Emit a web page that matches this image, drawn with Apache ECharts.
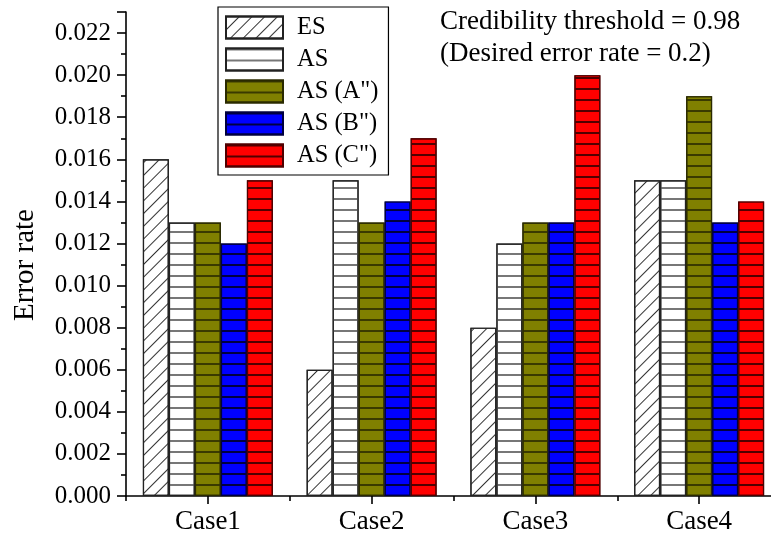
<!DOCTYPE html>
<html>
<head>
<meta charset="utf-8">
<script src="https://cdn.jsdelivr.net/npm/echarts@6/dist/echarts.min.js"></script>
<style>html,body{margin:0;padding:0;background:#fff}#c{width:771px;height:544px}</style>
</head>
<body>
<div id="c"></div>
<script>
var categories = ['Case1', 'Case2', 'Case3', 'Case4'];
var seriesNames = ['ES', 'AS', 'AS (A")', 'AS (B")', 'AS (C")'];
var esValues = [0.016, 0.006, 0.008, 0.015];
var asValues = [0.013, 0.015, 0.012, 0.015];
var asAValues = [0.013, 0.013, 0.013, 0.019];
var asBValues = [0.012, 0.014, 0.013, 0.013];
var asCValues = [0.015, 0.017, 0.020, 0.014];
var yTicks = { min: 0, max: 0.023, interval: 0.002 };

var FONT = '"Liberation Serif", "Times New Roman", serif';
var chart = echarts.init(document.getElementById('c'), null, { renderer: 'canvas' });

function hline(color) {
  return { symbol: 'rect', symbolSize: 1, color: color, dashArrayX: [[1, 0]], dashArrayY: [1.2, 8.8], rotation: 0 };
}
var styles = [
  { color: '#ffffff', borderColor: '#222', decal: { symbol: 'rect', symbolSize: 1, color: '#333', dashArrayX: [[1, 0]], dashArrayY: [1, 8], rotation: -Math.PI / 4 } },
  { color: '#ffffff', borderColor: '#222', decal: hline('#777') },
  { color: '#808000', borderColor: '#2a2a00', decal: hline('#3a3a00') },
  { color: '#0000ff', borderColor: '#000040', decal: hline('#000040') },
  { color: '#ff0000', borderColor: '#500000', decal: hline('#500000') }
];
var values = [esValues, asValues, asAValues, asBValues, asCValues];

var series = seriesNames.map(function (n, i) {
  return {
    name: n, type: 'bar', xAxisIndex: 0, data: values[i],
    barGap: '0%', barCategoryGap: '20.6%',
    itemStyle: { color: styles[i].color, borderColor: styles[i].borderColor, borderWidth: 1.2, decal: styles[i].decal }
  };
});

chart.setOption({
  animation: false,
  backgroundColor: '#fff',
  grid: { left: 126, top: 12, width: 655, bottom: 48, containLabel: false, outerBoundsMode: 'none' },
  legend: {
    orient: 'vertical', left: 218, top: 7,
    itemWidth: 57, itemHeight: 22, itemGap: 7, icon: 'rect',
    padding: [8, 10, 7, 7],
    borderColor: '#000', borderWidth: 1.2, backgroundColor: '#fff',
    textStyle: { fontFamily: FONT, fontSize: 24.5, lineHeight: 22, color: '#000', padding: [0, 0, 0, 9] },
    data: seriesNames
  },
  xAxis: [{
    type: 'category', data: categories, position: 'bottom',
    axisLine: { lineStyle: { color: '#000', width: 1.6 } },
    axisTick: { show: true, alignWithLabel: true, length: 8, inside: false, lineStyle: { color: '#000', width: 1.6 } },
    axisLabel: { fontFamily: FONT, fontSize: 27, color: '#000', margin: 12 },
    splitLine: { show: false }
  }, {
    type: 'category', data: categories, position: 'bottom',
    axisLine: { show: false },
    axisTick: { show: true, alignWithLabel: false, length: 5, lineStyle: { color: '#000', width: 1.6 } },
    axisLabel: { show: false },
    splitLine: { show: false }
  }],
  yAxis: {
    type: 'value', min: yTicks.min, max: yTicks.max, interval: yTicks.interval,
    axisLine: { show: true, lineStyle: { color: '#000', width: 1.6 } },
    axisTick: { show: true, length: 9, lineStyle: { color: '#000', width: 1.6 } },
    minorTick: { show: true, splitNumber: 2, length: 5, lineStyle: { color: '#000', width: 1.6 } },
    axisLabel: { fontFamily: FONT, fontSize: 25, color: '#000', margin: 15, showMaxLabel: false,
      formatter: function (v) { return v.toFixed(3); } },
    splitLine: { show: false }
  },
  graphic: [
    { type: 'text', x: 25, y: 265, rotation: Math.PI / 2,
      style: { text: 'Error rate', font: '29px ' + FONT, fill: '#000', textAlign: 'center', textVerticalAlign: 'middle' } },
    { type: 'text', left: 440, top: 8, style: { text: 'Credibility threshold = 0.98', font: '27px ' + FONT, fill: '#000' } },
    { type: 'text', left: 440, top: 40, style: { text: '(Desired error rate = 0.2)', font: '27px ' + FONT, fill: '#000' } }
  ],
  series: series
});
</script>
</body>
</html>
